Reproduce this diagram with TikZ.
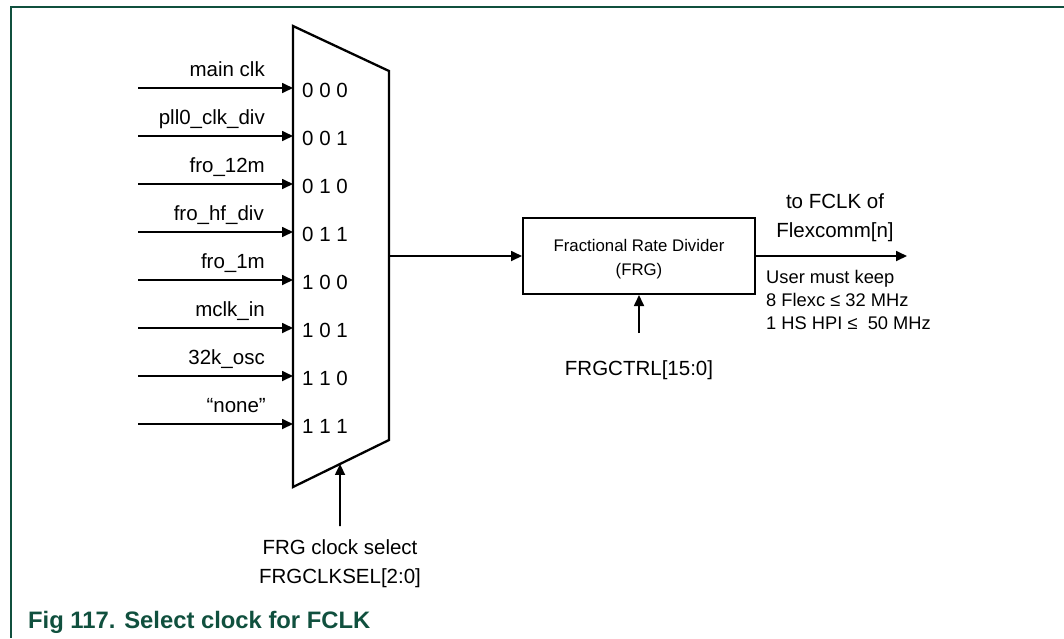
\documentclass[tikz,border=0pt]{standalone}
\usepackage{fontspec}
\setmainfont{Liberation Sans}
\usetikzlibrary{arrows.meta,calc}
\definecolor{figgreen}{RGB}{16,80,62}
\begin{document}
\begin{tikzpicture}[x=1pt,y=-1pt,
 sig/.style={line width=1.7pt,-{Triangle[length=11pt,width=10pt]}},
 lbl/.style={inner sep=0,font=\fontsize{20.5}{29}\selectfont}]
 \useasboundingbox (0,0) rectangle (1064,638);
 \draw[figgreen,line width=2pt] (1064,7)--(11,7)--(11,638);
 % multiplexer
 \coordinate (mtl) at (293,26); \coordinate (mtr) at (389,71);
 \coordinate (mbr) at (389,440); \coordinate (mbl) at (293,487);
 \draw[line width=2.3pt,line join=miter] (mtl)--(mtr)--(mbr)--(mbl)--cycle;
 \coordinate (a0) at (138,88); \coordinate (p0) at (293,88); \draw[sig] (a0)--(p0);
 \node[lbl,anchor=base east] (l0) at (265,76) {main clk}; \node[lbl,anchor=base west] (n0) at (302,97) {0 0 0};
 \coordinate (a1) at (138,136); \coordinate (p1) at (293,136); \draw[sig] (a1)--(p1);
 \node[lbl,anchor=base east] (l1) at (265,124) {pll0\_clk\_div}; \node[lbl,anchor=base west] (n1) at (302,145) {0 0 1};
 \coordinate (a2) at (138,184); \coordinate (p2) at (293,184); \draw[sig] (a2)--(p2);
 \node[lbl,anchor=base east] (l2) at (265,172) {fro\_12m}; \node[lbl,anchor=base west] (n2) at (302,193) {0 1 0};
 \coordinate (a3) at (138,232); \coordinate (p3) at (293,232); \draw[sig] (a3)--(p3);
 \node[lbl,anchor=base east] (l3) at (264,220) {fro\_hf\_div}; \node[lbl,anchor=base west] (n3) at (302,241) {0 1 1};
 \coordinate (a4) at (138,280); \coordinate (p4) at (293,280); \draw[sig] (a4)--(p4);
 \node[lbl,anchor=base east] (l4) at (265,268) {fro\_1m}; \node[lbl,anchor=base west] (n4) at (302,289) {1 0 0};
 \coordinate (a5) at (138,328); \coordinate (p5) at (293,328); \draw[sig] (a5)--(p5);
 \node[lbl,anchor=base east] (l5) at (265,316) {mclk\_in}; \node[lbl,anchor=base west] (n5) at (302,337) {1 0 1};
 \coordinate (a6) at (138,376); \coordinate (p6) at (293,376); \draw[sig] (a6)--(p6);
 \node[lbl,anchor=base east] (l6) at (265,364) {32k\_osc}; \node[lbl,anchor=base west] (n6) at (302,385) {1 1 0};
 \coordinate (a7) at (138,424); \coordinate (p7) at (293,424); \draw[sig] (a7)--(p7);
 \node[lbl,anchor=base east] (l7) at (266,412) {“none”}; \node[lbl,anchor=base west] (n7) at (302,433) {1 1 1};
 \coordinate (selin) at (340,526); \coordinate (selpt) at ($(mbl)!.49!(mbr)$);
 \draw[sig] (selin)--(selpt);
 \node[lbl,align=center,anchor=north] (seltxt) at (340,539) {FRG clock select\\FRGCLKSEL[2:0]};
 % divider
 \node[draw,line width=2pt,minimum width=232pt,minimum height=76pt] (frg) at (639,256) {};
 \node[inner sep=0,align=center,font=\fontsize{16.8}{24.5}\selectfont] (frgtxt) at ($(frg.center)+(0,3)$)
  {Fractional Rate Divider\\(FRG)};
 \coordinate (mout) at (389,256); \draw[sig] (mout)--(frg.west);
 \coordinate (ctl) at (639,333); \draw[sig] (ctl)--(frg.south);
 \node[lbl,anchor=base] (ctltxt) at (639,375) {FRGCTRL[15:0]};
 \coordinate (fclk) at (907,256); \draw[sig] (frg.east)--(fclk);
 \node[lbl,align=center,anchor=north] (dest) at (835,193) {to FCLK of\\Flexcomm[n]};
 \node[inner sep=0,align=left,anchor=north west,font=\fontsize{18.3}{23}\selectfont] (note) at (766,270)
  {User must keep\\8 Flexc ≤ 32 MHz\\1 HS HPI ≤~ 50 MHz};
 \node[anchor=base west,inner sep=0,text=figgreen,font=\fontsize{23.8}{28}\selectfont\bfseries] (cap) at (28,628)
  {Fig 117. Select clock for FCLK};
\end{tikzpicture}
\end{document}
